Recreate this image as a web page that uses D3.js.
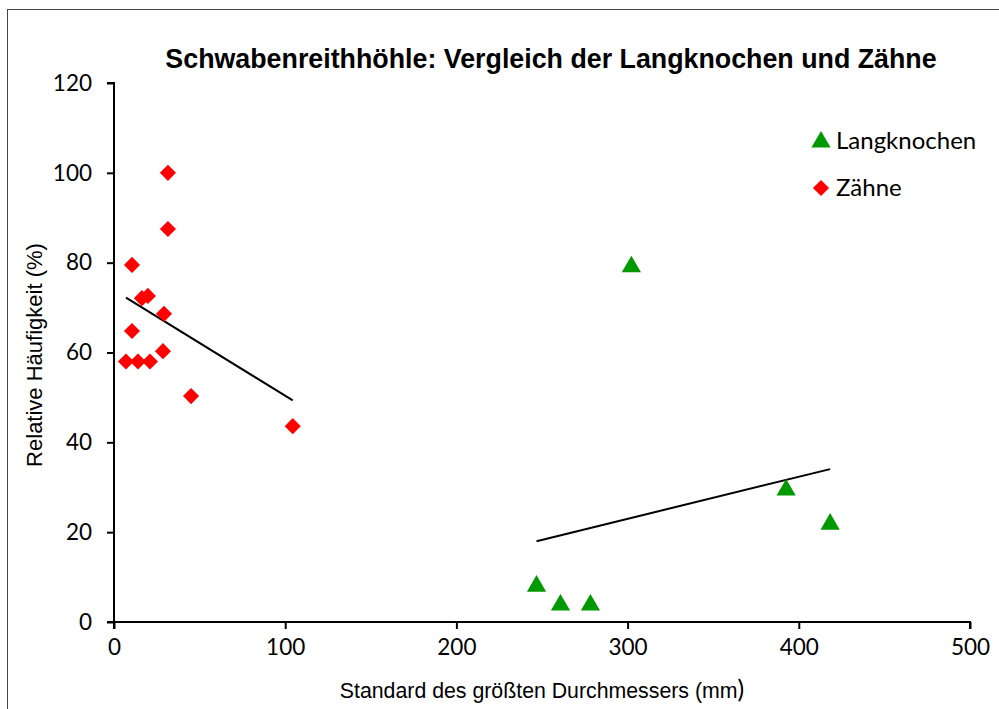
<!DOCTYPE html>
<html><head><meta charset="utf-8">
<script src="https://cdn.jsdelivr.net/npm/d3@7"></script>
<style>body{margin:0;background:#fff}svg{display:block}</style>
</head><body>
<svg id="c" width="999" height="709"></svg>
<script>
const title = "Schwabenreithhöhle: Vergleich der Langknochen und Zähne";
const xTitle = "Standard des größten Durchmessers (mm";
const yTitle = "Relative Häufigkeit (%)";
const xTicks = [0, 100, 200, 300, 400, 500];
const yTicks = [0, 20, 40, 60, 80, 100, 120];
const seriesNames = ["Langknochen", "Zähne"];
const langX = [246.8, 260.8, 278.3, 302.2, 392.6, 418.3];
const langY = [8.2, 4, 4, 79.3, 29.6, 22];
const zahnX = [7, 14, 21, 10.5, 10.5, 16.3, 19.8, 29.2, 28.6, 31.5, 31.5, 45, 104.4];
const zahnY = [58, 58, 58, 79.5, 64.8, 72.1, 72.6, 68.6, 60.3, 100, 87.5, 50.3, 43.6];

const svg = d3.select("#c");
const x = d3.scaleLinear().domain([0, 500]).range([114, 970]);
const y = d3.scaleLinear().domain([0, 120]).range([622, 83]);

svg.append("rect").attr("x", 7.5).attr("y", 9.5).attr("width", 1100).attr("height", 900)
  .attr("fill", "none").attr("stroke", "#444").attr("stroke-width", 1);

const tickFont = "Lato, 'Open Sans', sans-serif";
const xa = svg.append("g").attr("transform", "translate(0,622)")
  .call(d3.axisBottom(x).tickValues(xTicks).tickSize(7).tickPadding(10).tickFormat(d3.format("d")));
const ya = svg.append("g").attr("transform", "translate(114,0)")
  .call(d3.axisLeft(y).tickValues(yTicks).tickSize(7).tickPadding(15).tickFormat(d3.format("d")));
[xa, ya].forEach(g => {
  g.select(".domain").attr("stroke", "#000").attr("stroke-width", 2);
  g.selectAll(".tick line").attr("stroke", "#000").attr("stroke-width", 2);
  g.selectAll("text").attr("font-family", tickFont).attr("font-size", 22.5).attr("fill", "#000");
});
xa.select(".domain").attr("d", `M${x(0)},7V0H${x(500)}V7`);
ya.select(".domain").attr("d", `M-7,${y(120)}H0V${y(0)}H-7`);

function fit(xs, ys) {
  const mx = d3.mean(xs), my = d3.mean(ys);
  const b = d3.sum(xs, (v, i) => (v - mx) * (ys[i] - my)) / d3.sum(xs, v => (v - mx) ** 2);
  const a = my - b * mx;
  const x0 = d3.min(xs), x1 = d3.max(xs);
  return [[x0, a + b * x0], [x1, a + b * x1]];
}
const line = d3.line().x(d => x(d[0])).y(d => y(d[1]));
[[zahnX, zahnY], [langX, langY]].forEach(([xs, ys]) => {
  svg.append("path").attr("d", line(fit(xs, ys))).attr("stroke", "#000").attr("stroke-width", 2).attr("fill", "none");
});

const diamond = d3.symbol().type(d3.symbolSquare).size(130);
const tri = d3.symbol().type(d3.symbolTriangle).size(160);

svg.append("g").selectAll("path").data(zahnX.map((v, i) => [v, zahnY[i]])).join("path")
  .attr("d", diamond).attr("fill", "#ff0000")
  .attr("transform", d => `translate(${x(d[0])},${y(d[1])}) rotate(45)`);
svg.append("g").selectAll("path").data(langX.map((v, i) => [v, langY[i]])).join("path")
  .attr("d", tri).attr("fill", "#009900")
  .attr("transform", d => `translate(${x(d[0])},${y(d[1]) + 1})`);

// legend
const lg = svg.append("g");
lg.append("path").attr("d", tri).attr("fill", "#009900").attr("transform", "translate(821,142)");
lg.append("path").attr("d", diamond).attr("fill", "#ff0000").attr("transform", "translate(821,188) rotate(45)");
lg.selectAll("text").data(seriesNames).join("text")
  .attr("x", 836).attr("y", (d, i) => 149 + i * 47)
  .attr("font-family", tickFont).attr("font-size", 24).attr("fill", "#000").text(d => d);

svg.append("text").attr("x", 551).attr("y", 68).attr("text-anchor", "middle")
  .attr("font-family", "'Liberation Sans', Arial, sans-serif").attr("font-weight", "bold").attr("font-size", 26.8)
  .text(title);
const xt = svg.append("text").attr("x", 542).attr("y", 698).attr("text-anchor", "middle")
  .attr("font-family", "'Liberation Sans', Arial, sans-serif").attr("font-size", 21.3);
xt.append("tspan").text(xTitle);
xt.append("tspan").attr("font-family", tickFont).attr("font-size", 25).text(")");
svg.append("text").attr("transform", "translate(42,355) rotate(-90)").attr("text-anchor", "middle")
  .attr("font-family", "'Liberation Sans', Arial, sans-serif").attr("font-size", 22).text(yTitle);
</script>
</body></html>
